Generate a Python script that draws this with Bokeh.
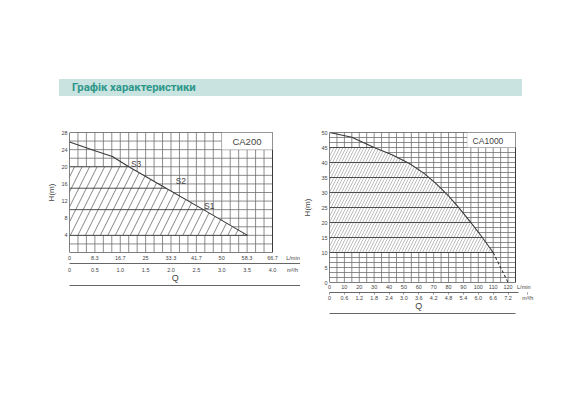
import numpy as np
from bokeh.plotting import figure
from bokeh.models import Range1d, LinearAxis, FixedTicker, Label, Div, BoxAnnotation
from bokeh.layouts import column, row
from bokeh.embed import file_html
from bokeh.resources import INLINE
from bokeh.core.properties import value

# ---------------- data ----------------
TITLE = "Графік характеристики"

ca200_name = "CA200"
ca200_q = [0, 8.6, 14.1, 19.5, 31.0, 44.0, 58.5]          # L/min
ca200_h = [25.8, 23.7, 22.4, 20.0, 15.3, 10.0, 4.0]       # m
ca200_bands = [4, 10, 15, 20]
ca200_speed = ["S3", "S2", "S1"]
ca200_speed_q = [21.9, 36.6, 45.9]
ca200_speed_h = [20.7, 16.6, 10.85]
ca200_lmin_ticks = [0, 8.3, 16.7, 25, 33.3, 41.7, 50, 58.3, 66.7]
ca200_lmin_labels = ["0", "8.3", "16.7", "25", "33.3", "41.7", "50", "58.3", "66.7"]
ca200_m3h_ticks = [0, 0.5, 1.0, 1.5, 2.0, 2.5, 3.0, 3.5, 4.0]
ca200_m3h_labels = ["0", "0.5", "1.0", "1.5", "2.0", "2.5", "3.0", "3.5", "4.0"]
ca200_h_ticks = [4, 8, 12, 16, 20, 24, 28]

ca1000_name = "CA1000"
ca1000_q = [0, 15, 30, 42, 54, 64, 72, 80, 87, 94, 102, 110]
ca1000_h = [50, 48.4, 45, 42.6, 39.6, 36.2, 32.8, 28.9, 24.9, 20.6, 15.5, 10]
ca1000_tail_q = [110, 120]
ca1000_tail_h = [10, 0]
ca1000_bands = [10, 15, 20, 25, 30, 35, 40, 45]
ca1000_lmin_ticks = [0, 10, 20, 30, 40, 50, 60, 70, 80, 90, 100, 110, 120]
ca1000_lmin_labels = ["0", "10", "20", "30", "40", "50", "60", "70", "80", "90", "100", "110", "120"]
ca1000_m3h_ticks = [0, 0.6, 1.2, 1.8, 2.4, 3.0, 3.6, 4.2, 4.8, 5.4, 6.0, 6.6, 7.2]
ca1000_m3h_labels = ["0", "0.6", "1.2", "1.8", "2.4", "3.0", "3.6", "4.2", "4.8", "5.4", "6.0", "6.6", "7.2"]
ca1000_h_ticks = [0, 5, 10, 15, 20, 25, 30, 35, 40, 45, 50]

UNIT_LMIN = "L/min"
UNIT_M3H = "m³/h"
Q_LABEL = "Q"
H_LABEL = "H(m)"

# ---------------- styles ----------------
FONT = "Liberation Sans"
GRID = "#6e6e6e"
INK = "#3a3a3a"
TXT = "#444444"
RULE = "#555555"


def plain_axis(ax, size="5.5px"):
    ax.axis_line_color = None
    ax.major_tick_line_color = None
    ax.minor_tick_line_color = None
    ax.major_tick_out = 0
    ax.major_tick_in = 0
    ax.minor_tick_out = 0
    ax.minor_tick_in = 0
    ax.major_label_text_font = FONT
    ax.major_label_text_font_size = size
    ax.major_label_text_color = TXT


def chart(d, g):
    fw_chart = g["chart_w"]
    fw = g["frame_w"]
    x_end, m3h_end, y_end = d["x_end"], d["m3h_end"], d["y_end"]
    sx = x_end / fw_chart                      # L/min per pixel
    sm = m3h_end / fw_chart                    # m3/h per pixel
    p = figure(width=g["bl"] + fw + g["br"], height=g["bt"] + g["fh"] + g["bb"],
               frame_width=fw, frame_height=g["fh"],
               min_border_left=g["bl"], min_border_right=g["br"],
               min_border_top=g["bt"], min_border_bottom=g["bb"],
               x_range=Range1d(0, fw * sx), y_range=Range1d(0, y_end),
               output_backend="svg", toolbar_location=None, tools="")
    p.extra_x_ranges = {"m3h": Range1d(0, fw * sm)}
    p.outline_line_color = None
    p.xgrid.visible = False
    p.ygrid.visible = False
    p.background_fill_color = "white"
    p.border_fill_color = "white"

    # grid of the chart area
    gx = list(np.linspace(0, x_end, d["cols"] + 1))
    gy = list(np.linspace(0, y_end, d["rows"] + 1))
    p.segment(x0=gx, y0=[0] * len(gx), x1=gx, y1=[y_end] * len(gx), line_color=GRID, line_width=0.8)
    p.segment(x0=[0] * len(gy), y0=gy, x1=[x_end] * len(gy), y1=gy, line_color=GRID, line_width=0.8)

    # hatched operating range
    q, h, bands = d["q"], d["h"], d["bands"]
    top = bands[-1]
    hq = [0] + [qq for qq, hh in zip(q, h) if hh <= top]
    hh_ = [top] + [hh for hh in h if hh <= top]
    p.varea(x=hq, y1=[bands[0]] * len(hq), y2=hh_, fill_color="white",
            hatch_pattern="/", hatch_color=d["hatch_color"], hatch_scale=d["hatch_scale"],
            hatch_weight=d["hatch_weight"])
    ends = np.interp(bands, h[::-1], q[::-1])
    p.segment(x0=[0] * len(bands), y0=bands, x1=list(ends), y1=bands, line_color=INK, line_width=0.9)
    # frame of the chart area
    p.segment(x0=[0, x_end, 0, 0], y0=[0, 0, 0, y_end], x1=[0, x_end, x_end, x_end],
              y1=[y_end, y_end, 0, y_end], line_color=INK, line_width=1)

    p.line(q, h, line_color=INK, line_width=1.1)
    if d.get("tail") is not None:
        p.line(d["tail"][0], d["tail"][1], line_color=INK, line_width=1.1, line_dash="3 2")
    if d.get("speeds") is not None:
        s = d["speeds"]
        p.text(x=s[1], y=s[2], text=s[0], text_font=value(FONT), text_font_size="8.5px",
               text_color=TXT, text_align="center", text_baseline="middle")

    box = d["box"]
    p.add_layout(BoxAnnotation(left=box[0], right=box[1], bottom=box[2], top=box[3],
                               fill_color="white", fill_alpha=1, line_color=GRID, line_width=0.8))
    p.add_layout(Label(x=d["name_xy"][0], y=d["name_xy"][1], text=d["name"], text_font=FONT,
                       text_font_size=d["name_size"], text_color=TXT, text_align="center",
                       text_baseline="middle"))

    # ---- y axis
    ay = p.yaxis[0]
    plain_axis(ay)
    ay.ticker = FixedTicker(ticks=d["h_ticks"])
    ay.axis_label = H_LABEL
    ay.axis_label_standoff = g["ylab_std"]
    ay.axis_label_text_font = FONT
    ay.axis_label_text_font_size = "8px"
    ay.axis_label_text_font_style = "normal"
    ay.axis_label_text_color = TXT
    ay.major_label_standoff = 2

    # ---- x axes (stacked below the chart)
    u1 = g["unit1_px"] * sx
    u2 = g["unit2_px"] * sm
    ax1 = p.xaxis[0]
    plain_axis(ax1)
    ax1.ticker = FixedTicker(ticks=d["lmin_ticks"] + [u1])
    ax1.major_label_overrides = dict(zip(d["lmin_ticks"] + [u1], d["lmin_labels"] + [UNIT_LMIN]))
    ax1.major_label_standoff = g["std1"]

    spacer = LinearAxis(ticker=FixedTicker(ticks=[]))
    plain_axis(spacer)
    spacer.major_tick_out = g["gap"]
    spacer.major_label_standoff = 0
    p.add_layout(spacer, "below")

    axm = LinearAxis(ticker=FixedTicker(ticks=[]))
    plain_axis(axm)
    axm.bounds = (g["mid_from_px"] * sx, g["mid_to_px"] * sx)
    axm.axis_line_color = RULE
    axm.axis_line_width = 0.9
    axm.major_label_standoff = 0
    p.add_layout(axm, "below")

    ax2 = LinearAxis(x_range_name="m3h", ticker=FixedTicker(ticks=d["m3h_ticks"] + [u2]))
    plain_axis(ax2)
    ax2.major_label_overrides = dict(zip(d["m3h_ticks"] + [u2], d["m3h_labels"] + [UNIT_M3H]))
    ax2.major_label_standoff = g["std2"]
    if g["mid_tick"]:
        ax2.major_tick_out = g["mid_tick"]
        ax2.major_tick_line_color = "#666666"
        ax2.major_tick_line_width = 0.7
    p.add_layout(ax2, "below")

    qpos = g["q_px"] * sx
    qax = LinearAxis(ticker=FixedTicker(ticks=[qpos]))
    plain_axis(qax, "9px")
    qax.major_label_overrides = {qpos: Q_LABEL}
    qax.major_label_standoff = g["q_std"]
    p.add_layout(qax, "below")

    axb = LinearAxis(ticker=FixedTicker(ticks=[]))
    plain_axis(axb)
    axb.bounds = (g["bot_from_px"] * sx, g["bot_to_px"] * sx)
    axb.axis_line_color = RULE
    axb.axis_line_width = 0.9
    axb.major_label_standoff = 0
    p.add_layout(axb, "below")
    return p


ca200 = dict(q=ca200_q, h=ca200_h, bands=ca200_bands, x_end=66.7, m3h_end=4.0, y_end=28,
             lmin_ticks=ca200_lmin_ticks, lmin_labels=ca200_lmin_labels,
             m3h_ticks=ca200_m3h_ticks, m3h_labels=ca200_m3h_labels, h_ticks=ca200_h_ticks,
             cols=24, rows=14, box=(50, 66.7, 24, 28), name=ca200_name, name_xy=(58.3, 26),
             name_size="9.5px", hatch_scale=15, hatch_color="#505050", hatch_weight=0.7,
             speeds=(ca200_speed, ca200_speed_q, ca200_speed_h))
ca1000 = dict(q=ca1000_q, h=ca1000_h, bands=ca1000_bands, x_end=125, m3h_end=7.5, y_end=50,
              lmin_ticks=ca1000_lmin_ticks, lmin_labels=ca1000_lmin_labels,
              m3h_ticks=ca1000_m3h_ticks, m3h_labels=ca1000_m3h_labels, h_ticks=ca1000_h_ticks,
              cols=25, rows=30, box=(92.5, 125, 45, 50), name=ca1000_name, name_xy=(106.5, 47.3),
              name_size="8.5px", hatch_scale=6, hatch_color="#7a7a7a", hatch_weight=0.5,
              tail=(ca1000_tail_q, ca1000_tail_h))

# page layout in pixels (chart frames: 69..272 x 132..252 and 324..510 x 131..281)
geomL = dict(bl=69, bt=36, chart_w=203, frame_w=231, fh=120, br=0, bb=40,
             std1=2, gap=5, std2=3, ylab_std=2, mid_tick=0, q_std=-3,
             unit1_px=223.5, unit2_px=223.0, mid_from_px=0, mid_to_px=231,
             bot_from_px=0, bot_to_px=231, q_px=105.7)
geomR = dict(bl=24, bt=35, chart_w=186, frame_w=211, fh=150, br=35, bb=38,
             std1=1, gap=0, std2=0, ylab_std=6, mid_tick=2, q_std=-3,
             unit1_px=194.3, unit2_px=198.3, mid_from_px=0, mid_to_px=189,
             bot_from_px=0, bot_to_px=186, q_px=89.3)

pL = chart(ca200, geomL)
pR = chart(ca1000, geomR)

title_div = Div(text=(f'<div style="margin:79px 0 0 59px;box-sizing:border-box;width:463px;height:17px;'
                      f'padding-left:13px;background:#c8e3e0;color:#2f978a;font-family:Roboto,sans-serif;'
                      f'font-weight:bold;font-size:11.3px;line-height:17px;">{TITLE}</div>'),
                width=570, height=96, margin=0)

layout = column(title_div, row(pL, pR, spacing=0), spacing=0)
open("out.html", "w").write(file_html(layout, INLINE))
